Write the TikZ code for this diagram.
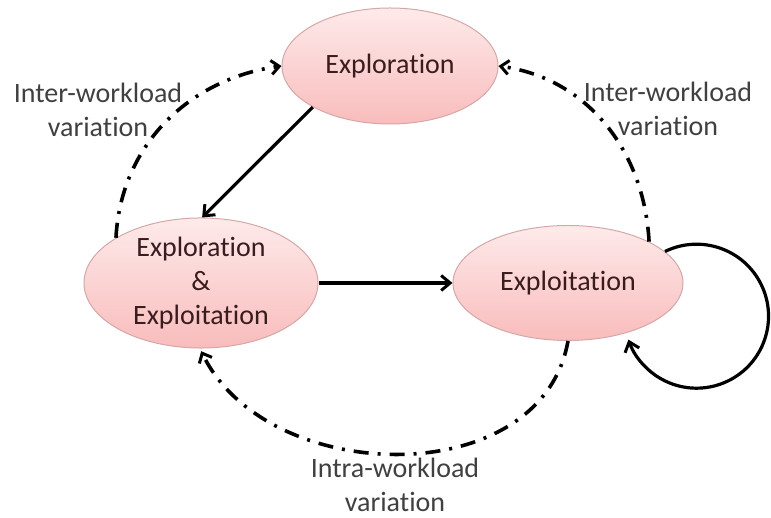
\documentclass[tikz,border=0pt]{standalone}
\usepackage{fontspec}
\setmainfont{Carlito}[RawFeature={-liga}]
\usetikzlibrary{shapes.geometric,arrows.meta}
\definecolor{nodetext}{HTML}{3A1C1E}
\definecolor{labeltext}{HTML}{404040}
\definecolor{ellborder}{HTML}{D4A8A8}
\definecolor{elltop}{HTML}{FEEAEA}
\definecolor{ellbot}{HTML}{F9BCBC}
\tikzset{
  state/.style={ellipse, draw=ellborder, line width=1pt, top color=elltop, bottom color=ellbot,
    inner sep=0pt, text=nodetext, font=\fontsize{28}{34}\selectfont, align=center},
  lbl/.style={text=labeltext, font=\fontsize{28}{34}\selectfont, align=center, inner sep=0pt},
  solidarrow/.style={line width=3.2pt, -{Straight Barb[length=9pt,width=15pt,line width=3pt]}},
  dasharrow/.style={line width=3.6pt, dash pattern=on 15pt off 9pt on 3pt off 9pt,
    -{Straight Barb[length=8pt,width=14pt,line width=3pt]}},
}
\begin{document}
\begin{tikzpicture}[x=1pt,y=1pt]
\useasboundingbox (0,0) rectangle (771,518);
\node[state, minimum width=216, minimum height=116] (explo) at (390,452) {Exploration};
\node[state, minimum width=234, minimum height=115] (ee) at (201,235) {Exploration\\\&\\Exploitation};
\node[state, minimum width=230, minimum height=115] (ex) at (568,235) {Exploitation};

\node[lbl] (lblL) at (98,408) {Inter-workload\\variation};
\node[lbl] (lblR) at (668,409) {Inter-workload\\variation};
\node[lbl] (lblB) at (395,33) {Intra-workload\\variation};

\draw[solidarrow] (explo.208) -- (ee.89);
\draw[solidarrow] (ee.east) -- (ex.west);
\draw[solidarrow] (ex.18) arc[start angle=116, end angle=-161, radius=72];

\draw[dasharrow] (ee.152) to[out=87, in=188] (explo.west);
\draw[dasharrow] (ex.27) to[out=93, in=-8] (explo.east);
\draw[dasharrow, shorten >=3pt] (ex.south) to[out=-100, in=-64, looseness=1.07] (ee.-91);
\end{tikzpicture}
\end{document}
